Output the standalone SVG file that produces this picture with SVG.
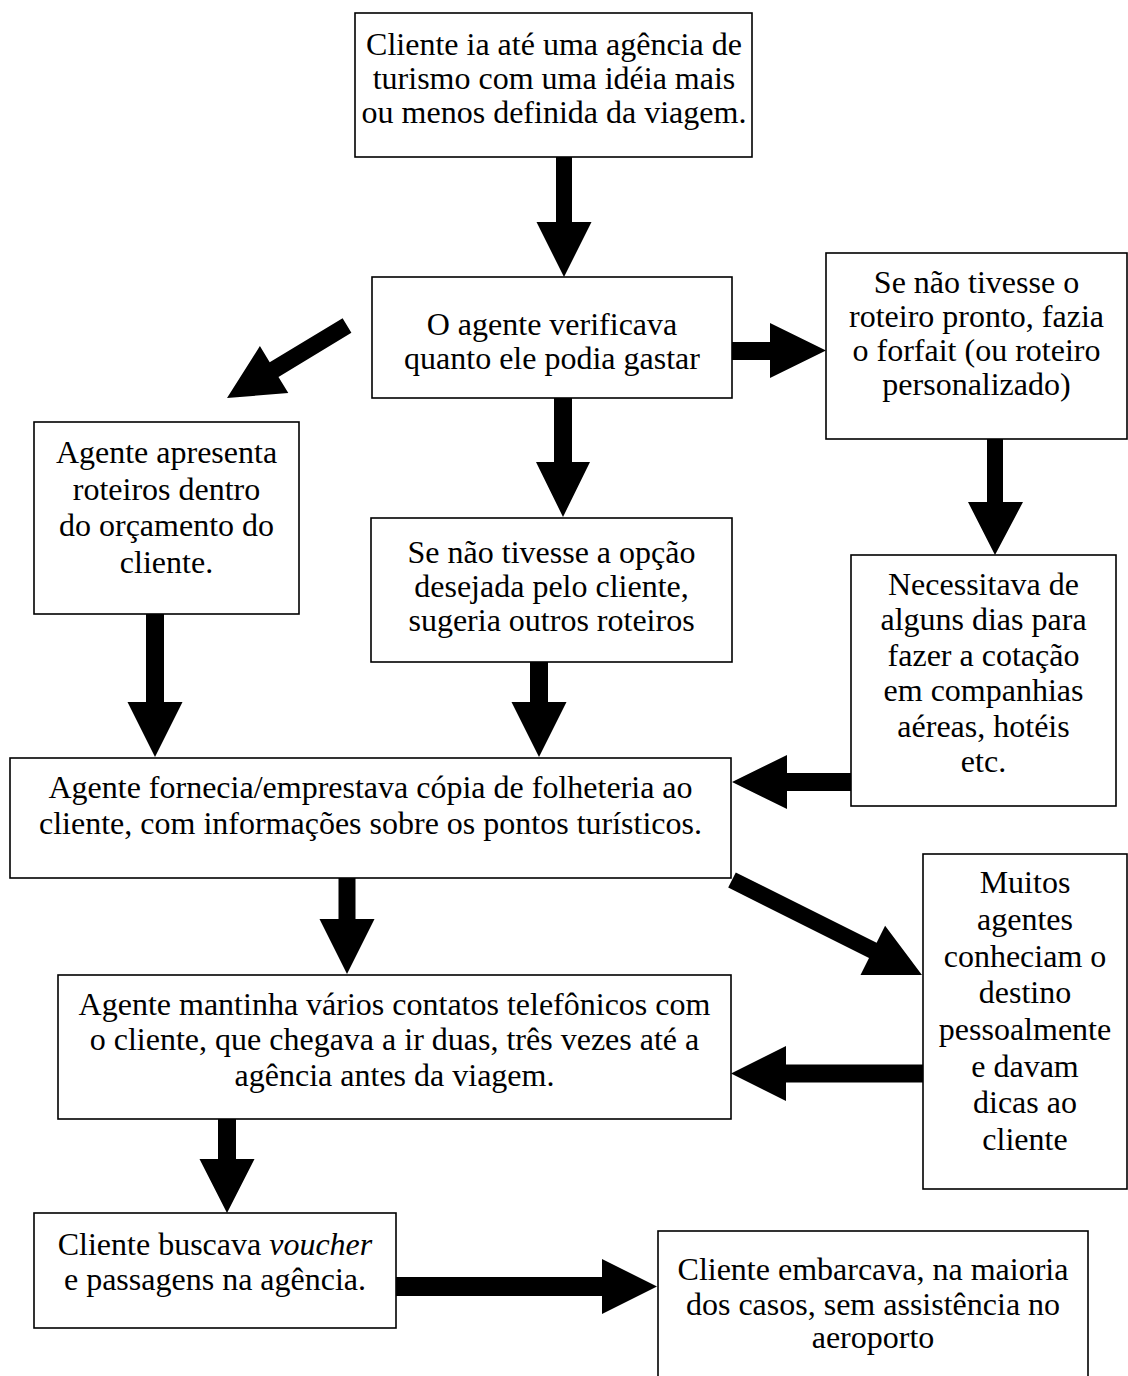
<svg xmlns="http://www.w3.org/2000/svg" width="1128" height="1376" viewBox="0 0 1128 1376">
<style>
.box{fill:#fff;stroke:#000;stroke-width:1.6}
.t{font-family:"Liberation Serif","Times New Roman",serif;font-size:32px;fill:#000;text-anchor:middle}
.a{fill:#000;stroke:none}
</style>
<rect width="1128" height="1376" fill="#fff"/>
<g id="connectors">
<polygon class="a" points="556,157 572,157 572,222 591.5,222 564,277 536.5,222 556,222"/>
<polygon class="a" points="554,398 572,398 572,462 590,462 563,517 536,462 554,462"/>
<polygon class="a" points="732,342 770,342 770,323 826,350.5 770,378 770,360 732,360"/>
<polygon class="a" points="342.6,318.2 351.4,332.8 278.5,376.9 288.3,393.1 227,398 259.9,346.1 269.7,362.3"/>
<polygon class="a" points="987,439 1003,439 1003,502 1023,502 995,555 968,502 987,502"/>
<polygon class="a" points="146,614 164,614 164,702 182.5,702 155,757 127.5,702 146,702"/>
<polygon class="a" points="530,662 548,662 548,702 566.5,702 539,757 511.5,702 530,702"/>
<polygon class="a" points="851,773 787,773 787,755 732,782 787,809 787,791 851,791"/>
<polygon class="a" points="735.8,872.4 876.6,942.8 885.1,925.8 922,975 860.5,975 869,958 728.2,887.6"/>
<polygon class="a" points="338.5,878 355.5,878 355.5,919 374.5,919 347,974 319.5,919 338.5,919"/>
<polygon class="a" points="923,1064.5 786,1064.5 786,1046 731,1073.5 786,1101 786,1082.5 923,1082.5"/>
<polygon class="a" points="218,1119 236,1119 236,1159 254.5,1159 227,1213 199.5,1159 218,1159"/>
<polygon class="a" points="396,1277 602,1277 602,1259 657,1286.5 602,1314 602,1296 396,1296"/>
</g>
<g id="n1"><rect class="box" x="355" y="13" width="397" height="144"/>
<text class="t"><tspan x="554" y="55">Cliente ia até uma agência de</tspan><tspan x="554" y="89">turismo com uma idéia mais</tspan><tspan x="554" y="123">ou menos definida da viagem.</tspan></text></g>
<g id="n2"><rect class="box" x="372" y="277" width="360" height="121"/>
<text class="t"><tspan x="552" y="335">O agente verificava</tspan><tspan x="552" y="369">quanto ele podia gastar</tspan></text></g>
<g id="n3"><rect class="box" x="826" y="253" width="301" height="186"/>
<text class="t"><tspan x="976.5" y="293">Se não tivesse o</tspan><tspan x="976.5" y="327">roteiro pronto, fazia</tspan><tspan x="976.5" y="361">o forfait (ou roteiro</tspan><tspan x="976.5" y="395">personalizado)</tspan></text></g>
<g id="n4"><rect class="box" x="34" y="422" width="265" height="192"/>
<text class="t"><tspan x="166.5" y="463">Agente apresenta</tspan><tspan x="166.5" y="500">roteiros dentro</tspan><tspan x="166.5" y="536">do orçamento do</tspan><tspan x="166.5" y="573">cliente.</tspan></text></g>
<g id="n5"><rect class="box" x="371" y="518" width="361" height="144"/>
<text class="t"><tspan x="551.5" y="563">Se não tivesse a opção</tspan><tspan x="551.5" y="597">desejada pelo cliente,</tspan><tspan x="551.5" y="631">sugeria outros roteiros</tspan></text></g>
<g id="n6"><rect class="box" x="851" y="555" width="265" height="251"/>
<text class="t"><tspan x="983.5" y="595">Necessitava de</tspan><tspan x="983.5" y="630">alguns dias para</tspan><tspan x="983.5" y="666">fazer a cotação</tspan><tspan x="983.5" y="701">em companhias</tspan><tspan x="983.5" y="737">aéreas, hotéis</tspan><tspan x="983.5" y="772">etc.</tspan></text></g>
<g id="n7"><rect class="box" x="10" y="758" width="721" height="120"/>
<text class="t"><tspan x="370.5" y="798">Agente fornecia/emprestava cópia de folheteria ao</tspan><tspan x="370.5" y="834">cliente, com informações sobre os pontos turísticos.</tspan></text></g>
<g id="n8"><rect class="box" x="923" y="854" width="204" height="335"/>
<text class="t"><tspan x="1025" y="893">Muitos</tspan><tspan x="1025" y="930">agentes</tspan><tspan x="1025" y="967">conheciam o</tspan><tspan x="1025" y="1003">destino</tspan><tspan x="1025" y="1040">pessoalmente</tspan><tspan x="1025" y="1077">e davam</tspan><tspan x="1025" y="1113">dicas ao</tspan><tspan x="1025" y="1150">cliente</tspan></text></g>
<g id="n9"><rect class="box" x="58" y="975" width="673" height="144"/>
<text class="t"><tspan x="394.5" y="1015">Agente mantinha vários contatos telefônicos com</tspan><tspan x="394.5" y="1050">o cliente, que chegava a ir duas, três vezes até a</tspan><tspan x="394.5" y="1086">agência antes da viagem.</tspan></text></g>
<g id="n10"><rect class="box" x="34" y="1213" width="362" height="115"/>
<text class="t"><tspan x="215" y="1255">Cliente buscava <tspan font-style="italic">voucher</tspan></tspan><tspan x="215" y="1290">e passagens na agência.</tspan></text></g>
<g id="n11"><rect class="box" x="658" y="1231" width="430" height="160"/>
<text class="t"><tspan x="873" y="1280">Cliente embarcava, na maioria</tspan><tspan x="873" y="1315">dos casos, sem assistência no</tspan><tspan x="873" y="1348">aeroporto</tspan></text></g>
</svg>
